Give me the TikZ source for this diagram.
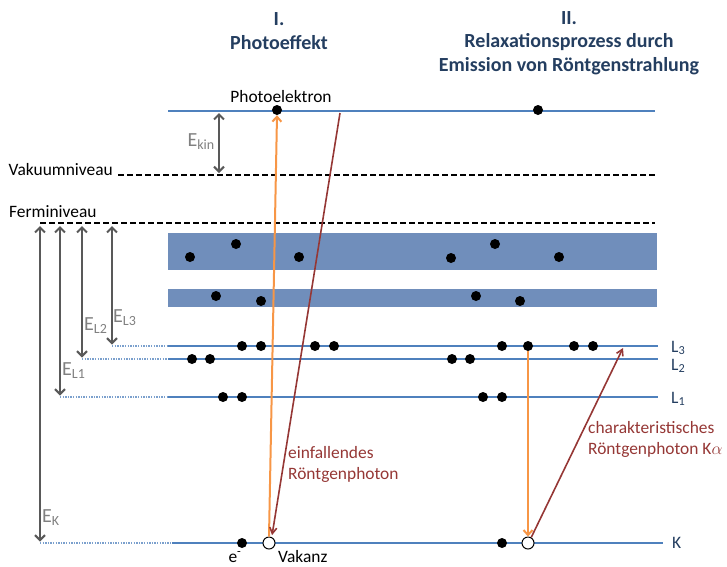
\documentclass[tikz,border=0pt]{standalone}
\usepackage{fontspec}
\setmainfont{Carlito}
\usetikzlibrary{positioning,arrows.meta,calc}
\definecolor{lvblue}{RGB}{79,129,189}
\definecolor{bandblue}{RGB}{112,142,187}
\definecolor{titleblue}{RGB}{36,62,96}
\definecolor{egray}{RGB}{89,89,89}
\definecolor{elabgray}{RGB}{128,128,128}
\definecolor{phorange}{RGB}{247,150,70}
\definecolor{xray}{RGB}{149,55,53}

\begin{document}
\begin{tikzpicture}[x=1pt, y=-1pt,
  font=\fontsize{17.4}{21}\selectfont,
  lvl/.style={draw=lvblue, line width=2.2pt},
  lvlext/.style={draw=lvblue!75, line width=1.6pt, dash pattern=on 1.4pt off 1.2pt},
  niveau/.style={draw=black, line width=1.8pt, dash pattern=on 6pt off 3pt},
  band/.style={fill=bandblue},
  el/.style={circle, fill=black, inner sep=0pt, minimum size=10pt},
  hole/.style={circle, draw=black, fill=white, line width=1pt, inner sep=0pt, minimum size=12pt},
  earr/.style={draw=egray, line width=2pt,
               {Straight Barb[length=5pt,width=10pt]}-{Straight Barb[length=5pt,width=10pt]}},
  elab/.style={text=elabgray, font=\fontsize{20}{22}\selectfont, inner sep=1pt},
  oarr/.style={draw=phorange, line width=2pt, -{Straight Barb[length=5pt,width=9pt]}},
  rarr/.style={draw=xray, line width=1.6pt, -{Straight Barb[length=6pt,width=7pt]}},
  rlab/.style={text=xray, align=left, anchor=north west, inner sep=0pt},
  title/.style={text=titleblue, font=\fontsize{20}{23.5}\selectfont\bfseries, align=center},
  shell/.style={text=titleblue, font=\fontsize{17.5}{20}\selectfont, anchor=west, inner sep=0pt}]
\useasboundingbox (0,0) rectangle (727,566);

% titles
\node[title] (t1) at (279,31) {I.\\Photoeffekt};
\node[title] (t2) at (569,43) {II.\\Relaxationsprozess durch\\Emission von Röntgenstrahlung};

% free electron level, vacuum and fermi level
\coordinate (pe-w) at (168,111);
\coordinate (pe-e) at (655,111);
\draw[lvl] (pe-w) -- (pe-e);
\coordinate (vak-w) at (118,175);
\coordinate (vak-e) at (655,175);
\draw[niveau] (vak-w) -- (vak-e);
\coordinate (fermi-w) at (40,223);
\coordinate (fermi-e) at (655,223);
\draw[niveau] (fermi-w) -- (fermi-e);
\node[anchor=east, inner sep=0pt] (lab-vak) at (113,170) {Vakuumniveau};
\node[anchor=west, inner sep=0pt] (lab-fermi) at (9,212) {Ferminiveau};
\node (lab-pe) at (281,97) {Photoelektron};

% valence bands
\path[band] (168,233) rectangle (657,270);
\path[band] (168,289) rectangle (657,307);

% inner shells
\foreach \s/\y/\xd/\xw/\xe in {L3/346/112/168/658, L2/359/82/168/658,
                               L1/397/60/168/658, K/543/40/172/663} {
  \coordinate (\s-d) at (\xd,\y);
  \coordinate (\s-w) at (\xw,\y);
  \coordinate (\s-e) at (\xe,\y);
  \draw[lvlext] (\s-d) -- (\s-w);
  \draw[lvl] (\s-w) -- (\s-e);
}
\node[shell] (lab-L3) at (671,348) {L\textsubscript{3}};
\node[shell] (lab-L2) at (671,366) {L\textsubscript{2}};
\node[shell] (lab-L1) at (671,399) {L\textsubscript{1}};
\node[shell] (lab-K) at (672,543) {K};

% electrons
\foreach \x/\y [count=\i] in {190/257, 236/244, 299/257, 451/258, 495/244, 559/257,
                              216/296, 261/301, 476/296, 520/301}
  \node[el] (val-\i) at (\x,\y) {};
\foreach \x [count=\i] in {242, 261, 315, 334, 502, 574, 593}
  \node[el] (l3-\i) at (\x,346) {};
\node[el] (l3-src) at (528,346) {};
\foreach \x [count=\i] in {192, 210, 452, 470}
  \node[el] (l2-\i) at (\x,359) {};
\foreach \x [count=\i] in {223, 242, 483, 502}
  \node[el] (l1-\i) at (\x,397) {};
\node[el] (pe1) at (277,110) {};
\node[el] (pe2) at (538,110) {};
\node[el] (k-e1) at (242,543) {};
\node[hole] (hole1) at (269,543) {};
\node[el] (k-e2) at (502,543) {};
\node[hole] (hole2) at (528,543) {};
\node (lab-e) at (235,557) {e\textsuperscript{-}};
\node[anchor=west, inner sep=0pt] (lab-vakanz) at (278,557) {Vakanz};

% binding energies
\coordinate (ekin-t) at (219,113);
\coordinate (ekin-b) at (219,173);
\draw[earr] (ekin-t) -- (ekin-b);
\node[elab, anchor=east] (lab-ekin) at (216,142) {E\textsubscript{kin}};
\foreach \s in {L3, L2, L1, K}
  \draw[earr, shorten <=3pt, shorten >=1.5pt] (\s-d |- fermi-w) -- (\s-d);
\node[elab, anchor=west] (lab-el3) at (112,318) {E\textsubscript{L3}};
\node[elab, anchor=west] (lab-el2) at (83,326) {E\textsubscript{L2}};
\node[elab, anchor=west] (lab-el1) at (61,371) {E\textsubscript{L1}};
\node[elab, anchor=west] (lab-ek) at (41,518) {E\textsubscript{K}};

% I. photoeffect
\coordinate (xin) at (340,113);
\draw[oarr] (hole1.north) -- (pe1.south);
\draw[rarr, shorten >=2pt] (xin) -- (hole1.65);
\node[rlab] (lab-xin) at (288,446) {einfallendes\\Röntgenphoton};

% II. relaxation
\coordinate (ka-tip) at (623,348);
\draw[oarr] (l3-src) -- (hole2);
\draw[rarr] (hole2.60) -- (ka-tip);
\node[rlab] (lab-ka) at (588,421) {charakteristisches\\Röntgenphoton K$\alpha$};
\end{tikzpicture}
\end{document}
